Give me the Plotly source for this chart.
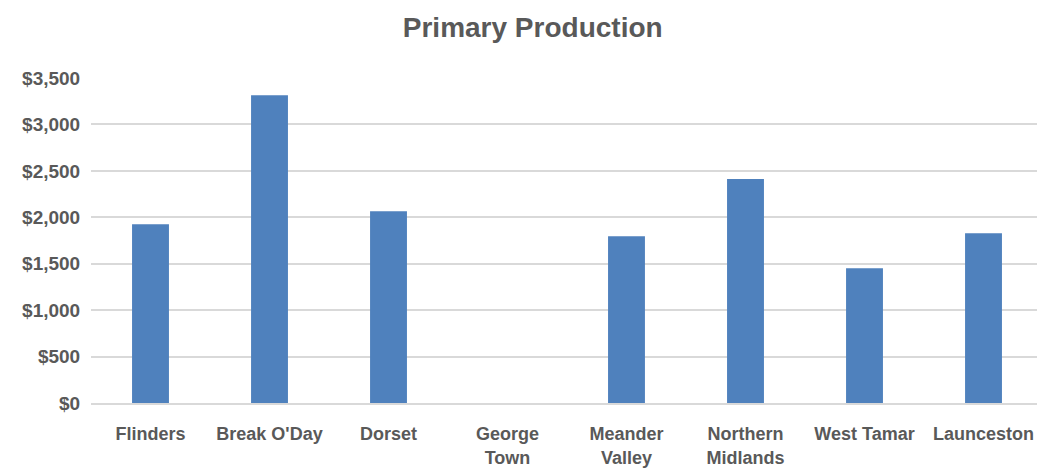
import plotly.graph_objects as go

categories = ["Flinders", "Break O'Day", "Dorset", "George<br>Town", "Meander<br>Valley",
              "Northern<br>Midlands", "West Tamar", "Launceston"]
values = [1925, 3315, 2065, 0, 1795, 2413, 1450, 1828]
y_ticks = [0, 500, 1000, 1500, 2000, 2500, 3000, 3500]
y_tick_labels = ["$0", "$500", "$1,000", "$1,500", "$2,000", "$2,500", "$3,000", "$3,500"]

FONT = "Liberation Sans, Arial, sans-serif"

fig = go.Figure(go.Bar(x=categories, y=values, marker=dict(color="#4F81BD", line=dict(width=0))))

# page body has an 8px default margin, so the figure is sized/offset to compensate
fig.update_layout(
    width=1037, height=465,
    paper_bgcolor="white", plot_bgcolor="white",
    margin=dict(l=83, r=2, t=70, b=70),
    bargap=0.69,
    showlegend=False,
    title=dict(text="<b>Primary Production</b>", x=0.506, xanchor="center", y=0.959, yanchor="middle",
               font=dict(family=FONT, size=28, color="#595959")),
    font=dict(family=FONT, color="#595959"),
)
fig.update_xaxes(tickfont=dict(family=FONT, size=18, color="#595959"), automargin=False,
                 showline=True, linecolor="#D9D9D9", linewidth=1.5,
                 ticks="outside", ticklen=14, tickcolor="rgba(0,0,0,0)",
                 showgrid=False, tickprefix="<b>", ticksuffix="</b>")
fig.update_yaxes(range=[0, 3500], tickvals=y_ticks, ticktext=["<b>" + t + "</b>" for t in y_tick_labels],
                 tickfont=dict(family=FONT, size=19, color="#595959"), automargin=False,
                 showgrid=True, gridcolor="#D9D9D9", gridwidth=1.5, zeroline=False,
                 showline=False, ticks="outside", ticklen=6, tickcolor="rgba(0,0,0,0)")

fig.write_html("out.html")
